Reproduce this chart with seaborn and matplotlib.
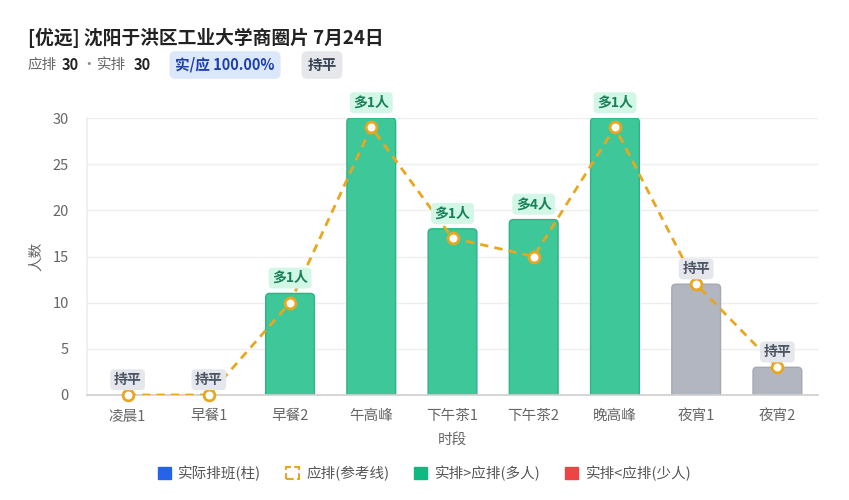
import pandas as pd
import numpy as np
import matplotlib
matplotlib.use('Agg')
import matplotlib.pyplot as plt
from matplotlib.patches import Patch, FancyBboxPatch
import seaborn as sns

# data
periods = ['凌晨1', '早餐1', '早餐2', '午高峰', '下午茶1', '下午茶2', '晚高峰', '夜宵1', '夜宵2']
actual = [0, 0, 11, 30, 18, 19, 30, 12, 3]
planned = [0, 0, 10, 29, 17, 15, 29, 12, 3]

title = '[优远] 沈阳于洪区工业大学商圈片 7月24日'
plan_total = 30
real_total = 30
ratio_text = '实/应 100.00%'
status_text = '持平'

GREEN = '#3ec89a'
GREEN_EDGE = '#2db483'
GRAY = '#b2b6c0'
GRAY_EDGE = '#a4a8b3'
RED = '#ef4444'
ORANGE = '#e9a61f'

sns.set_theme(style='white')
plt.rcParams['font.family'] = ['Noto Sans CJK SC', 'DejaVu Sans']

df = pd.DataFrame({'period': periods, 'actual': actual, 'planned': planned})
df['diff'] = df['actual'] - df['planned']


def bar_color(d):
    if d > 0:
        return GREEN
    if d < 0:
        return RED
    return GRAY


colors = [bar_color(d) for d in df['diff']]
edges = [GREEN_EDGE if d > 0 else (RED if d < 0 else GRAY_EDGE) for d in df['diff']]

fig = plt.figure(figsize=(8.49, 5.0), dpi=100)
ax = fig.add_axes([87 / 849, 105 / 500, 731 / 849, 277 / 500])

sns.barplot(data=df, x='period', y='actual', hue='period', palette=colors,
            legend=False, width=0.6, ax=ax)

ax.set_ylim(0, 30)
ax.set_xlim(-0.5, len(periods) - 0.5)

# swap plain bars for rounded-top ones
px_x = 1 / 81.2
px_y = 30 / 277
aspect = px_y / px_x
for i, rect in enumerate(list(ax.patches)):
    h = rect.get_height()
    rect.remove()
    if h <= 0:
        continue
    r = 4 * px_x
    x0 = rect.get_x()
    w = rect.get_width()
    fb = FancyBboxPatch((x0, -6 * px_y), w, h + 6 * px_y,
                        boxstyle=f'round,pad=0,rounding_size={r}',
                        mutation_aspect=aspect,
                        facecolor=colors[i], edgecolor=edges[i], linewidth=1.0,
                        zorder=2)
    ax.add_patch(fb)

# planned reference line
sns.lineplot(x=np.arange(len(periods)), y=df['planned'], ax=ax, color=ORANGE,
             linewidth=2, linestyle=(0, (3, 2.2)), zorder=3)
ax.scatter(np.arange(len(periods)), df['planned'], s=60, facecolor='white',
           edgecolor=ORANGE, linewidth=2, zorder=4, clip_on=False)

# labels above bars
for i, row in df.iterrows():
    top = max(row['actual'], row['planned'])
    if row['diff'] > 0:
        txt = f"多{row['diff']}人"
        fc, tc = '#d3f7e6', '#17805a'
    elif row['diff'] < 0:
        txt = f"少{-row['diff']}人"
        fc, tc = '#fde2e2', '#b91c1c'
    else:
        txt = '持平'
        fc, tc = '#e5e7ec', '#4b5563'
    ax.annotate(txt, (i, top), xytext=(0, 6), textcoords='offset points',
                ha='center', va='bottom', fontsize=10, fontweight='bold', color=tc,
                bbox=dict(boxstyle='round,pad=0.25,rounding_size=0.3', fc=fc, ec='none'),
                zorder=5)

ax.set_yticks([0, 5, 10, 15, 20, 25, 30])
ax.yaxis.grid(True, color='#eeeeee', linewidth=1)
ax.set_axisbelow(True)
for s in ['top', 'right']:
    ax.spines[s].set_visible(False)
ax.spines['left'].set_color('#eeeeee')
ax.spines['bottom'].set_color('#d0d0d0')
ax.tick_params(axis='both', length=0, labelsize=10.5, colors='#666666', pad=10)
ax.tick_params(axis='y', pad=13)
ax.set_xlabel('时段', fontsize=10.5, color='#666666', labelpad=7)
ax.set_ylabel('人数', fontsize=10.5, color='#666666', labelpad=7)

# header
fig.text(28 / 849, 1 - 38 / 500, title, fontsize=13.5, fontweight='bold', color='#222222', va='center')
fig.text(28 / 849, 1 - 65 / 500, '应排', fontsize=10.5, color='#666666', va='center')
fig.text(62 / 849, 1 - 65 / 500, str(plan_total), fontsize=10.5, fontweight='bold', color='#222222', va='center')
fig.text(81 / 849, 1 - 65 / 500, '·', fontsize=10.5, color='#888888', va='center')
fig.text(97 / 849, 1 - 65 / 500, '实排', fontsize=10.5, color='#666666', va='center')
fig.text(134 / 849, 1 - 65 / 500, str(real_total), fontsize=10.5, fontweight='bold', color='#222222', va='center')
fig.text(225 / 849, 1 - 65 / 500, ratio_text, fontsize=10.5, fontweight='bold', color='#1e3fa8',
         va='center', ha='center',
         bbox=dict(boxstyle='round,pad=0.4,rounding_size=0.4', fc='#dbe7fb', ec='none'))
fig.text(322 / 849, 1 - 65 / 500, status_text, fontsize=10.5, fontweight='bold', color='#374151',
         va='center', ha='center',
         bbox=dict(boxstyle='round,pad=0.4,rounding_size=0.4', fc='#e5e7eb', ec='none'))

# legend
handles = [
    Patch(facecolor='#2563eb', edgecolor='#2563eb', label='实际排班(柱)'),
    Patch(facecolor='none', edgecolor=ORANGE, linestyle='--', linewidth=1.5, label='应排(参考线)'),
    Patch(facecolor='#10b981', edgecolor='#10b981', label='实排>应排(多人)'),
    Patch(facecolor=RED, edgecolor=RED, label='实排<应排(少人)'),
]
leg = fig.legend(handles=handles, loc='center', bbox_to_anchor=(0.5, 1 - 473 / 500), ncol=4,
                 frameon=False, fontsize=10.5, handlelength=0.9, handleheight=0.9,
                 handletextpad=0.5, columnspacing=1.7)
for t in leg.get_texts():
    t.set_color('#555555')

fig.savefig('out.png', dpi=100, facecolor='white')
